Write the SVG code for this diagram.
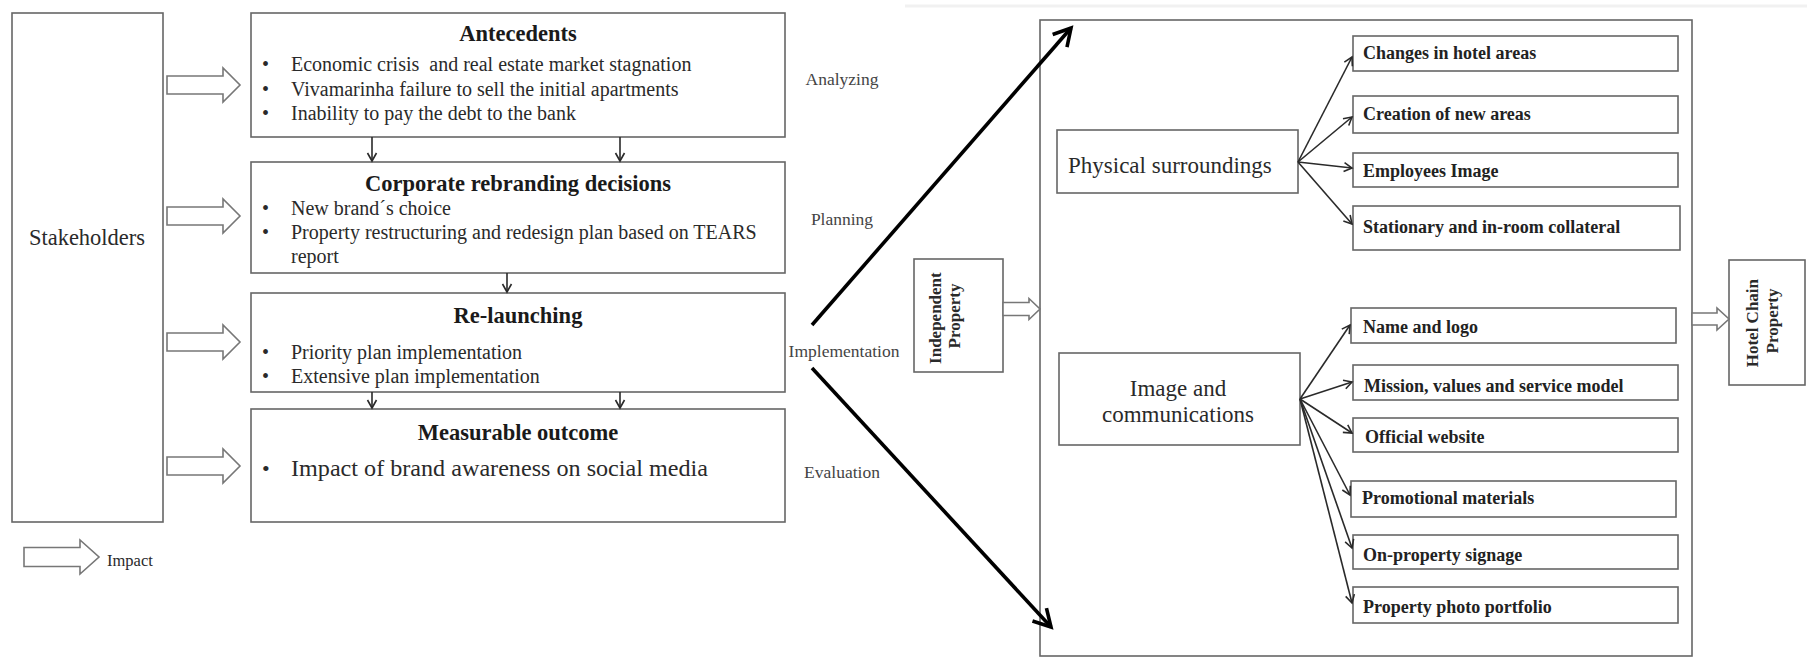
<svg xmlns="http://www.w3.org/2000/svg" width="1807" height="661" viewBox="0 0 1807 661">
  <style>
    .box { fill: #fff; stroke: #666; stroke-width: 1.6; }
    .blk { fill: #fff; stroke: #777; stroke-width: 1.6; stroke-linejoin: miter; }
    .t { font-family: "Liberation Serif", "Times New Roman", serif; fill: #2a2a2a; }
    .body { font-size: 20px; }
    .title { font-size: 22.5px; font-weight: bold; text-anchor: middle; fill: #1a1a1a; }
    .stage { font-size: 17.5px; text-anchor: middle; fill: #444; }
    .item { font-size: 18px; font-weight: bold; fill: #222; }
    .thin { stroke: #2a2a2a; stroke-width: 1.6; fill: none; }
    .bold { stroke: #000; stroke-width: 3.6; fill: none; }
  </style>
  <defs>
    <marker id="tip-sm" markerUnits="userSpaceOnUse" viewBox="-10 -6 12 12" refX="0" refY="0" markerWidth="12" markerHeight="12" orient="auto" overflow="visible">
      <path d="M-8,-4.5 L0,0 L-8,4.5" fill="none" stroke="#2a2a2a" stroke-width="1.6"/>
    </marker>
    <marker id="tip-lg" markerUnits="userSpaceOnUse" viewBox="-20 -12 24 24" refX="0" refY="0" markerWidth="24" markerHeight="24" orient="auto" overflow="visible">
      <path d="M-17,-9.5 L0,0 L-17,9.5" fill="none" stroke="#000" stroke-width="3.6"/>
    </marker>
    <!-- hollow "impact" block arrow, 73px long -->
    <path id="impact" d="M0,-9 H56 V-17 L73,0 L56,17 V9 H0 Z"/>
  </defs>

  <!-- faint scan edge along the top of the right panel -->
  <line x1="905" y1="6" x2="1807" y2="6" stroke="#f1f1f1" stroke-width="3"/>

  <!-- ===== left panel: rebranding process ===== -->
  <g id="stakeholders">
    <rect class="box" x="12" y="13" width="151" height="509"/>
    <text class="t" x="87" y="245" font-size="22.5" text-anchor="middle" fill="#333">Stakeholders</text>
  </g>

  <g id="antecedents">
    <rect class="box" x="251" y="13" width="534" height="124"/>
    <text class="t title" x="518" y="41">Antecedents</text>
    <text class="t body" x="262" y="71">•</text>
    <text class="t body" x="291" y="71" xml:space="preserve">Economic crisis  and real estate market stagnation</text>
    <text class="t body" x="262" y="96">•</text>
    <text class="t body" x="291" y="96">Vivamarinha failure to sell the initial apartments</text>
    <text class="t body" x="262" y="120">•</text>
    <text class="t body" x="291" y="120">Inability to pay the debt to the bank</text>
  </g>

  <g id="decisions">
    <rect class="box" x="251" y="162" width="534" height="111"/>
    <text class="t title" x="518" y="191">Corporate rebranding decisions</text>
    <text class="t body" x="262" y="215">•</text>
    <text class="t body" x="291" y="215">New brand´s choice</text>
    <text class="t body" x="262" y="239">•</text>
    <text class="t body" x="291" y="239">Property restructuring and redesign plan based on TEARS</text>
    <text class="t body" x="291" y="263">report</text>
  </g>

  <g id="relaunching">
    <rect class="box" x="251" y="293" width="534" height="99"/>
    <text class="t title" x="518" y="323">Re-launching</text>
    <text class="t body" x="262" y="359">•</text>
    <text class="t body" x="291" y="359">Priority plan implementation</text>
    <text class="t body" x="262" y="383">•</text>
    <text class="t body" x="291" y="383">Extensive plan implementation</text>
  </g>

  <g id="outcome">
    <rect class="box" x="251" y="409" width="534" height="113"/>
    <text class="t title" x="518" y="440">Measurable outcome</text>
    <text class="t" x="262" y="476" font-size="22">•</text>
    <text class="t" x="291" y="476" font-size="23" textLength="417" lengthAdjust="spacingAndGlyphs" fill="#333">Impact of brand awareness on social media</text>
  </g>

  <g id="stages">
    <text class="t stage" x="842" y="85">Analyzing</text>
    <text class="t stage" x="842" y="225">Planning</text>
    <text class="t stage" x="844" y="357">Implementation</text>
    <text class="t stage" x="842" y="478">Evaluation</text>
  </g>

  <g id="legend">
    <path class="blk" d="M24,547.5 H80 V540 L99,557 L80,574 V566.5 H24 Z"/>
    <text class="t" x="107" y="566" font-size="16.5" fill="#444">Impact</text>
  </g>

  <!-- ===== right panel: rebranding components ===== -->
  <g id="independent-property">
    <rect class="box" x="914" y="259" width="89" height="113"/>
    <text class="t" transform="translate(941,316) rotate(-90)" font-size="17" font-weight="bold" text-anchor="middle" fill="#222">
      <tspan x="0" y="0">Independent</tspan>
      <tspan x="0" y="19">Property</tspan>
    </text>
  </g>

  <g id="components-frame">
    <rect class="box" x="1040" y="20" width="652" height="636"/>
  </g>

  <g id="hotel-chain-property">
    <rect class="box" x="1729" y="260" width="76" height="125"/>
    <text class="t" transform="translate(1758,321) rotate(-90)" font-size="17" font-weight="bold" text-anchor="middle" fill="#222">
      <tspan x="0" y="0">Hotel Chain</tspan>
      <tspan x="0" y="20">Property</tspan>
    </text>
  </g>

  <g id="physical-surroundings">
    <rect class="box" x="1057" y="130" width="241" height="63"/>
    <text class="t" x="1068" y="173" font-size="23" fill="#333">Physical surroundings</text>
  </g>

  <g id="image-communications">
    <rect class="box" x="1059" y="353" width="241" height="92"/>
    <text class="t" x="1178" y="396" font-size="23" text-anchor="middle" fill="#333">Image and</text>
    <text class="t" x="1178" y="422" font-size="23" text-anchor="middle" fill="#333">communications</text>
  </g>

  <g id="hotel-areas">
    <rect class="box" x="1353" y="36" width="325" height="35"/>
    <text class="t item" x="1363" y="59">Changes in hotel areas</text>
  </g>
  <g id="new-areas">
    <rect class="box" x="1353" y="96" width="325" height="37"/>
    <text class="t item" x="1363" y="120">Creation of new areas</text>
  </g>
  <g id="employees-image">
    <rect class="box" x="1353" y="153" width="325" height="34"/>
    <text class="t item" x="1363" y="177">Employees Image</text>
  </g>
  <g id="in-room-collateral">
    <rect class="box" x="1353" y="206" width="327" height="44"/>
    <text class="t item" x="1363" y="233">Stationary and in-room collateral</text>
  </g>
  <g id="name-logo">
    <rect class="box" x="1351" y="308" width="325" height="35"/>
    <text class="t item" x="1363" y="333">Name and logo</text>
  </g>
  <g id="mission">
    <rect class="box" x="1353" y="365" width="325" height="35"/>
    <text class="t item" x="1364" y="392">Mission, values and service model</text>
  </g>
  <g id="website">
    <rect class="box" x="1353" y="418" width="325" height="34"/>
    <text class="t item" x="1365" y="443">Official website</text>
  </g>
  <g id="promotional">
    <rect class="box" x="1351" y="481" width="325" height="36"/>
    <text class="t item" x="1362" y="504">Promotional materials</text>
  </g>
  <g id="signage">
    <rect class="box" x="1353" y="535" width="325" height="34"/>
    <text class="t item" x="1363" y="561">On-property signage</text>
  </g>
  <g id="photo-portfolio">
    <rect class="box" x="1353" y="587" width="325" height="36"/>
    <text class="t item" x="1363" y="613">Property photo portfolio</text>
  </g>

  <!-- ===== connectors ===== -->
  <g id="connectors">
    <!-- stakeholder impacts -->
    <use href="#impact" class="blk" transform="translate(167,85)"/>
    <use href="#impact" class="blk" transform="translate(167,216)"/>
    <use href="#impact" class="blk" transform="translate(167,342)"/>
    <use href="#impact" class="blk" transform="translate(167,466)"/>

    <!-- process flow -->
    <line class="thin" x1="372" y1="137" x2="372" y2="161" marker-end="url(#tip-sm)"/>
    <line class="thin" x1="620" y1="137" x2="620" y2="161" marker-end="url(#tip-sm)"/>
    <line class="thin" x1="507" y1="273" x2="507" y2="292" marker-end="url(#tip-sm)"/>
    <line class="thin" x1="372" y1="392" x2="372" y2="408" marker-end="url(#tip-sm)"/>
    <line class="thin" x1="620" y1="392" x2="620" y2="408" marker-end="url(#tip-sm)"/>

    <!-- implementation split -->
    <line class="bold" x1="812" y1="325" x2="1071" y2="28" marker-end="url(#tip-lg)"/>
    <line class="bold" x1="812" y1="368" x2="1051" y2="627" marker-end="url(#tip-lg)"/>

    <!-- property transition -->
    <path class="blk" d="M1003,302.5 H1029 V298.5 L1040,309 L1029,319.5 V315.5 H1003 Z"/>
    <path class="blk" d="M1692,313 H1717 V308 L1729,319 L1717,330 V325 H1692 Z"/>

    <!-- physical surroundings fan -->
    <line class="thin" x1="1298" y1="162" x2="1352" y2="57" marker-end="url(#tip-sm)"/>
    <line class="thin" x1="1298" y1="162" x2="1352" y2="117" marker-end="url(#tip-sm)"/>
    <line class="thin" x1="1298" y1="162" x2="1352" y2="168" marker-end="url(#tip-sm)"/>
    <line class="thin" x1="1298" y1="162" x2="1352" y2="224" marker-end="url(#tip-sm)"/>

    <!-- image and communications fan -->
    <line class="thin" x1="1300" y1="399" x2="1350" y2="325" marker-end="url(#tip-sm)"/>
    <line class="thin" x1="1300" y1="399" x2="1352" y2="382" marker-end="url(#tip-sm)"/>
    <line class="thin" x1="1300" y1="399" x2="1352" y2="433" marker-end="url(#tip-sm)"/>
    <line class="thin" x1="1300" y1="399" x2="1350" y2="495" marker-end="url(#tip-sm)"/>
    <line class="thin" x1="1300" y1="399" x2="1352" y2="548" marker-end="url(#tip-sm)"/>
    <line class="thin" x1="1300" y1="399" x2="1352" y2="603" marker-end="url(#tip-sm)"/>
  </g>
</svg>
